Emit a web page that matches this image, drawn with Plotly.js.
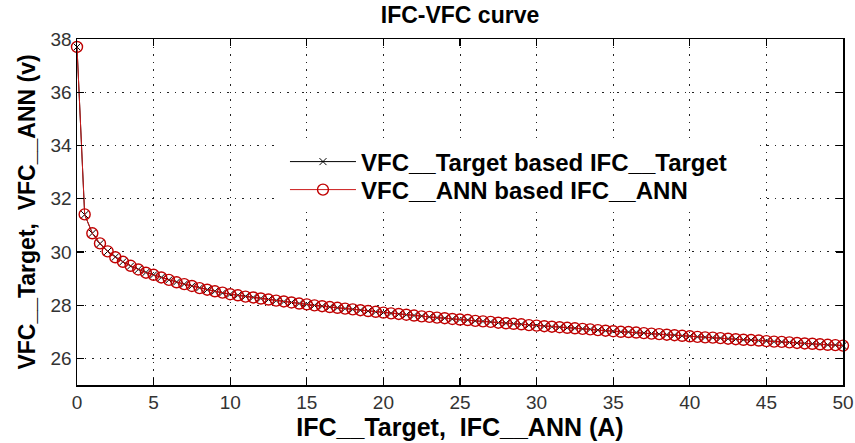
<!DOCTYPE html>
<html>
<head>
<meta charset="utf-8">
<script src="https://cdn.plot.ly/plotly-3.0.1.min.js"></script>
<style>
  html, body { margin: 0; padding: 0; background: #fff; }
  #chart { width: 855px; height: 443px; }
</style>
</head>
<body>
<div id="chart"></div>
<script>
// Current (A), sampled every 0.5 A
const ifcTarget = [0,0.5,1,1.5,2,2.5,3,3.5,4,4.5,5,5.5,6,6.5,7,7.5,8,8.5,9,9.5,10,
  10.5,11,11.5,12,12.5,13,13.5,14,14.5,15,15.5,16,16.5,17,17.5,18,18.5,19,19.5,20,
  20.5,21,21.5,22,22.5,23,23.5,24,24.5,25,25.5,26,26.5,27,27.5,28,28.5,29,29.5,30,
  30.5,31,31.5,32,32.5,33,33.5,34,34.5,35,35.5,36,36.5,37,37.5,38,38.5,39,39.5,40,
  40.5,41,41.5,42,42.5,43,43.5,44,44.5,45,45.5,46,46.5,47,47.5,48,48.5,49,49.5,50];
const vfcTarget = [37.70,31.40,30.70,30.31,30.02,29.81,29.63,29.47,29.34,29.23,29.14,
  29.04,28.95,28.87,28.79,28.72,28.65,28.58,28.52,28.46,28.41,
  28.37,28.33,28.29,28.25,28.21,28.17,28.13,28.10,28.06,28.03,
  27.99,27.96,27.93,27.90,27.87,27.84,27.81,27.78,27.75,27.72,
  27.69,27.66,27.64,27.61,27.59,27.56,27.53,27.51,27.48,27.46,
  27.44,27.41,27.39,27.37,27.34,27.32,27.30,27.28,27.25,27.23,
  27.21,27.19,27.17,27.15,27.13,27.11,27.09,27.06,27.04,27.02,
  27.00,26.99,26.97,26.95,26.93,26.91,26.89,26.87,26.85,26.83,
  26.81,26.79,26.78,26.76,26.74,26.72,26.70,26.69,26.67,26.65,
  26.63,26.62,26.60,26.58,26.56,26.55,26.53,26.51,26.50,26.48];
const ifcAnn = [0,0.5,1,1.5,2,2.5,3,3.5,4,4.5,5,5.5,6,6.5,7,7.5,8,8.5,9,9.5,10,
  10.5,11,11.5,12,12.5,13,13.5,14,14.5,15,15.5,16,16.5,17,17.5,18,18.5,19,19.5,20,
  20.5,21,21.5,22,22.5,23,23.5,24,24.5,25,25.5,26,26.5,27,27.5,28,28.5,29,29.5,30,
  30.5,31,31.5,32,32.5,33,33.5,34,34.5,35,35.5,36,36.5,37,37.5,38,38.5,39,39.5,40,
  40.5,41,41.5,42,42.5,43,43.5,44,44.5,45,45.5,46,46.5,47,47.5,48,48.5,49,49.5,50];
const vfcAnn = [37.70,31.41,30.70,30.32,30.02,29.80,29.63,29.48,29.34,29.22,29.14,
  29.04,28.95,28.86,28.79,28.72,28.64,28.58,28.52,28.47,28.41,
  28.37,28.32,28.29,28.25,28.21,28.17,28.14,28.10,28.06,28.03,
  27.99,27.96,27.93,27.90,27.87,27.84,27.81,27.78,27.75,27.72,
  27.69,27.67,27.64,27.61,27.58,27.56,27.53,27.51,27.48,27.46,
  27.44,27.41,27.39,27.37,27.34,27.32,27.30,27.28,27.25,27.23,
  27.21,27.19,27.17,27.15,27.13,27.11,27.09,27.06,27.04,27.02,
  27.00,26.99,26.97,26.95,26.93,26.91,26.89,26.87,26.85,26.83,
  26.81,26.79,26.78,26.76,26.74,26.72,26.70,26.69,26.67,26.65,
  26.63,26.62,26.60,26.58,26.56,26.55,26.53,26.51,26.50,26.48];

const xTicks = [0,5,10,15,20,25,30,35,40,45,50];
const yTicks = [26,28,30,32,34,36,38];

const seriesNames = ['VFC__Target based IFC__Target', 'VFC__ANN based IFC__ANN'];
const titleText = 'IFC-VFC curve';
const xTitle = 'IFC__Target,  IFC__ANN (A)';
const yTitle = 'VFC__Target,  VFC__ANN (v)';

const FONT = 'Liberation Sans, Arial, sans-serif';

const traces = [
  {
    x: ifcTarget, y: vfcTarget, name: seriesNames[0], legend: 'legend',
    type: 'scatter', mode: 'lines+markers', cliponaxis: false,
    line: {color: '#000000', width: 1},
    marker: {symbol: 'x-thin-open', size: 7, color: '#000000', line: {color: '#000000', width: 1}}
  },
  {
    x: ifcAnn, y: vfcAnn, name: seriesNames[1], legend: 'legend2',
    type: 'scatter', mode: 'lines+markers', cliponaxis: false,
    line: {color: '#cc1a1a', width: 1},
    marker: {symbol: 'circle-open', size: 11, color: '#c00000', line: {color: '#c00000', width: 1.4}}
  }
];

const axisCommon = {
  showline: true, linecolor: '#000', linewidth: 1.5, mirror: 'ticks',
  ticks: 'inside', ticklen: 7, tickwidth: 1.2, tickcolor: '#000',
  showgrid: true, gridcolor: '#222', gridwidth: 1, griddash: '1.5px,6px',
  zeroline: false,
  tickfont: {family: FONT, size: 19, color: '#333'}
};

const legendCommon = {
  xanchor: 'left', yanchor: 'middle',
  bgcolor: 'rgba(255,255,255,0)', borderwidth: 0, itemwidth: 66,
  font: {family: FONT, size: 24, color: '#000', weight: 'bold'}
};

const layout = {
  width: 855, height: 443,
  margin: {l: 77, r: 12, t: 39, b: 58},
  paper_bgcolor: '#fff', plot_bgcolor: '#fff',
  title: {
    text: titleText, xref: 'paper', x: 0.5, y: 0.966, yanchor: 'middle',
    font: {family: FONT, size: 23, color: '#000', weight: 'bold'}
  },
  xaxis: Object.assign({}, axisCommon, {
    range: [0, 50], tickvals: xTicks, ticktext: xTicks.map(String),
    title: {text: xTitle, standoff: 6,
      font: {family: FONT, size: 25, color: '#000', weight: 'bold'}}
  }),
  yaxis: Object.assign({}, axisCommon, {
    range: [25, 38], tickvals: yTicks, ticktext: yTicks.map(String),
    title: {text: yTitle, standoff: 8,
      font: {family: FONT, size: 23, color: '#000', weight: 'bold'}}
  }),
  // white legend box hiding the grid behind the legend entries
  shapes: [{
    type: 'rect', xref: 'paper', yref: 'paper', layer: 'above',
    x0: 0.265, x1: 0.885, y0: 0.506, y1: 0.708,
    fillcolor: '#fff', line: {width: 0}
  }],
  showlegend: true,
  legend: Object.assign({}, legendCommon, {x: 0.2715, y: 0.6445}),
  legend2: Object.assign({}, legendCommon, {x: 0.2715, y: 0.5636})
};

Plotly.newPlot('chart', traces, layout, {displayModeBar: false, staticPlot: true});
</script>
</body>
</html>
